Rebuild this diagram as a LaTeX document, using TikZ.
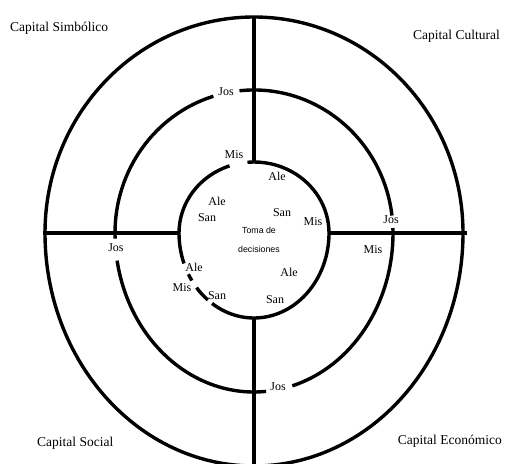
\documentclass[tikz,border=0pt]{standalone}
\usepackage{fontspec}
\setmainfont{Liberation Serif}
\newfontfamily\centresans{Liberation Sans}
\usepackage{tikz}
\usetikzlibrary{calc}
\definecolor{inkblack}{RGB}{0,0,0}
\tikzset{
  ring/.style={draw=inkblack,line width=3.4pt},
  spoke/.style={draw=inkblack,line width=3.4pt},
  capital/.style={font=\fontsize{13.5}{15}\selectfont,inner sep=0pt},
  actor/.style={font=\fontsize{12}{13}\selectfont,inner sep=0pt},
  centretext/.style={font=\centresans\fontsize{8.8}{10}\selectfont,inner sep=0pt}
}

\begin{document}
\begin{tikzpicture}[x=1pt,y=1pt]
  \useasboundingbox (0,0) rectangle (511,463);
  \coordinate (c) at (254,230);
  % outer ring
  \draw[ring] (c) ++(0:209pt and 216pt)
    arc[start angle=0,end angle=180,x radius=209pt,y radius=216pt]
    arc[start angle=180,end angle=360,x radius=209pt,y radius=233pt];
  % middle ring, with gaps for Jos
  \draw[ring] (c) ++(7:139pt and 143pt)
    arc[start angle=7,end angle=96,x radius=139pt,y radius=143pt];
  \draw[ring] (c) ++(107:139pt and 143pt)
    arc[start angle=107,end angle=180,x radius=139pt,y radius=143pt]
    arc[start angle=180,end angle=182,x radius=139pt,y radius=159pt];
  \draw[ring] (c) ++(190:139pt and 159pt)
    arc[start angle=190,end angle=275,x radius=139pt,y radius=159pt];
  \draw[ring] (c) ++(286:139pt and 159pt)
    arc[start angle=286,end angle=360,x radius=139pt,y radius=159pt]
    arc[start angle=0,end angle=2,x radius=139pt,y radius=143pt];
  % inner ring
  \draw[ring] (c) ++(109:75pt and 71pt)
    arc[start angle=109,end angle=180,x radius=75pt,y radius=71pt]
    arc[start angle=180,end angle=201,x radius=75pt,y radius=85pt];
  \draw[ring] (c) ++(209:75pt and 85pt)
    arc[start angle=209,end angle=214,x radius=75pt,y radius=85pt];
  \draw[ring] (c) ++(220:75pt and 85pt)
    arc[start angle=220,end angle=232,x radius=75pt,y radius=85pt];
  \draw[ring] (c) ++(236:75pt and 85pt)
    arc[start angle=236,end angle=360,x radius=75pt,y radius=85pt]
    arc[start angle=0,end angle=95,x radius=75pt,y radius=71pt];

  % spokes between the rings
  \coordinate (otop) at ($(c)+(0,216)$);
  \coordinate (itop) at ($(c)+(0,71)$);
  \coordinate (ibot) at ($(c)+(0,-85)$);
  \coordinate (obot) at ($(c)+(0,-240)$);
  \coordinate (oleft) at ($(c)+(-211,0)$);
  \coordinate (ileft) at ($(c)+(-75,0)$);
  \coordinate (iright) at ($(c)+(75,0)$);
  \coordinate (oright) at ($(c)+(213,0)$);
  \draw[spoke] (otop) -- (itop);
  \draw[spoke] (ibot) -- (obot);
  \draw[spoke] (oleft) -- (ileft);
  \draw[spoke] (iright) -- (oright);

  % capitals
  \node[capital,anchor=west] (simbolico) at (10,435) {Capital Simbólico};
  \node[capital,anchor=east] (cultural) at (500,427) {Capital Cultural};
  \node[capital,anchor=west] (social) at (37,20) {Capital Social};
  \node[capital,anchor=east] (economico) at (502,22) {Capital Económico};

  % actors
  \node[actor] (jos1) at (226,371) {Jos};
  \node[actor] (jos2) at (116,215) {Jos};
  \node[actor] (jos3) at (391,243) {Jos};
  \node[actor] (jos4) at (278,76) {Jos};
  \node[actor] (mis1) at (234,308) {Mis};
  \node[actor] (mis2) at (313,241) {Mis};
  \node[actor] (mis3) at (182,175) {Mis};
  \node[actor] (mis4) at (373,213) {Mis};
  \node[actor] (ale1) at (277,287) {Ale};
  \node[actor] (ale2) at (217,262) {Ale};
  \node[actor] (ale3) at (289,191) {Ale};
  \node[actor] (ale4) at (194,196) {Ale};
  \node[actor] (san1) at (207,245) {San};
  \node[actor] (san2) at (282,250) {San};
  \node[actor] (san3) at (217,167) {San};
  \node[actor] (san4) at (275,163) {San};

  % centre
  \node[centretext] (toma) at (259,233) {Toma de};
  \node[centretext] (decis) at (259,214) {decisiones};
\end{tikzpicture}
\end{document}
